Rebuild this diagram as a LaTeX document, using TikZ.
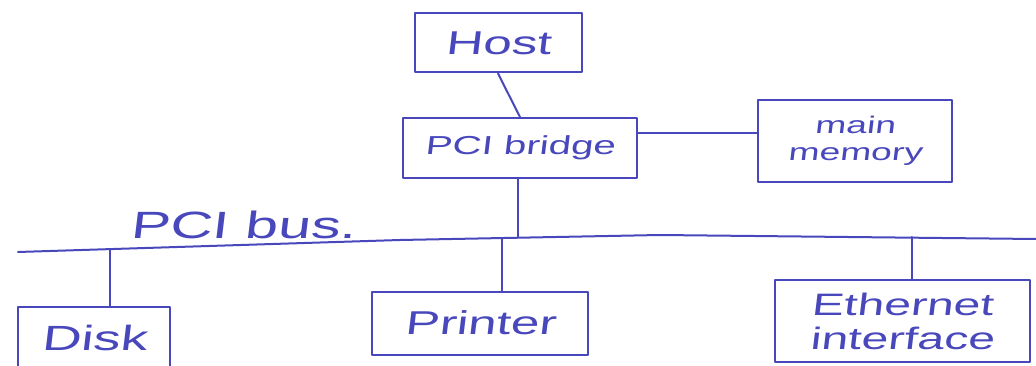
\documentclass[tikz,border=0pt]{standalone}
\usepackage{fontspec}
\usetikzlibrary{calc}
\newfontfamily\hand[FakeStretch=1.55,FakeSlant=0.12]{Liberation Sans}
\definecolor{ink}{RGB}{72,72,188}
\tikzset{
  ink line/.style={draw=ink, line width=2pt, line cap=round, line join=round},
  box/.style={ink line, rectangle, inner sep=0pt, align=center, text=ink,
              font=\hand\fontsize{26}{30}\selectfont},
  lbl/.style={text=ink, inner sep=0pt, font=\hand\fontsize{38}{40}\selectfont}
}
\begin{document}
\begin{tikzpicture}[x=1pt, y=-1pt]
  \useasboundingbox (0,0) rectangle (1036,366);
  \clip (0,0) rectangle (1036,366);
  \fill[white] (0,0) rectangle (1036,366);

  % upper part: host, bridge, memory
  \node[box, minimum width=167pt, minimum height=59pt, font=\hand\fontsize{33}{36}\selectfont] (host) at (498,43) {Host};
  \node[box, minimum width=234pt, minimum height=60pt] (bridge) at (520,148) {PCI bridge};
  \node[box, minimum width=194pt, minimum height=82pt, font=\hand\fontsize{24}{27}\selectfont] (memory) at (855,141) {main\\memory};

  % devices on the bus
  \node[box, minimum width=152pt, minimum height=62pt, font=\hand\fontsize{35}{38}\selectfont] (disk) at (94,338) {Disk};
  \node[box, minimum width=216pt, minimum height=63pt, font=\hand\fontsize{33}{36}\selectfont] (printer) at (480,323) {Printer};
  \node[box, minimum width=255pt, minimum height=82pt, font=\hand\fontsize{31}{34}\selectfont] (eth) at (902,321) {Ethernet\\interface};

  % the bus line and its taps
  \coordinate (busL) at (18,252);
  \coordinate (busA) at (400,240);
  \coordinate (busB) at (660,235);
  \coordinate (busR) at (1036,239);
  \coordinate (tapDisk) at (110,249);
  \coordinate (tapPrinter) at (502,238);
  \coordinate (tapBridge) at (518,237);
  \coordinate (tapEth) at (912,237);
  \draw[ink line] (busL) -- (busA) -- (busB) -- (busR);
  \node[lbl] (buslabel) at (243,225) {PCI bus.};

  % connectors
  \draw[ink line] (host.south) -- (bridge.north);
  \draw[ink line] ([yshift=15pt]bridge.east) coordinate (bm) -- (bm -| memory.west);
  \draw[ink line] (bridge.south -| tapBridge) -- (tapBridge);
  \draw[ink line] (tapDisk) -- (tapDisk |- disk.north);
  \draw[ink line] (tapPrinter) -- (tapPrinter |- printer.north);
  \draw[ink line] (tapEth) -- (tapEth |- eth.north);
\end{tikzpicture}
\end{document}
